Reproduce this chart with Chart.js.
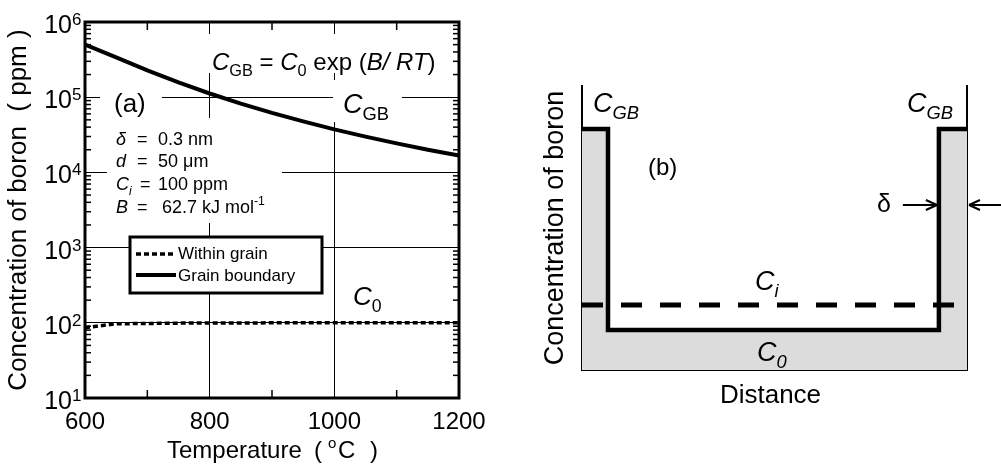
<!DOCTYPE html>
<html>
<head>
<meta charset="utf-8">
<script src="https://cdn.jsdelivr.net/npm/chart.js@4.4.1/dist/chart.umd.min.js"></script>
<style>
  html, body { margin: 0; padding: 0; background: #fff; }
  #wrap { position: relative; width: 1001px; height: 464px; }
  canvas { position: absolute; top: 0; }
</style>
</head>
<body>
<div id="wrap">
  <canvas id="chart-a" width="500" height="464" style="left:0"></canvas>
  <canvas id="chart-b" width="501" height="464" style="left:500px"></canvas>
</div>
<script>
// (a) boron concentration vs temperature
const temperatureC = [600, 650, 700, 750, 800, 850, 900, 950, 1000, 1050, 1100, 1150, 1200];
const withinGrainPpm = [86, 97, 98, 99, 99.5, 99.7, 99.8, 99.9, 99.9, 100, 100, 100, 100];
const grainBoundaryPpm = [500000, 339000, 227000, 157000, 112000, 82200, 61800, 47600, 37300, 29900, 24300, 20000, 16700];
const tempTicks = [600, 800, 1000, 1200];
const tempMinorTicks = [700, 900, 1100];
const decadeTicks = [10, 100, 1000, 10000, 100000, 1000000];

// (b) schematic profile across one grain (arbitrary units 0..1)
const distancePos = [0, 0.0675, 0.0675, 0.927, 0.927, 1];
const profileLevel = [0.849, 0.849, 0.141, 0.141, 0.849, 0.849];
const initialPos = [0, 0.972];
const initialLevel = [0.229, 0.229];

const FONT = '"Liberation Sans", Arial, sans-serif';
const GRAY = '#dcdcdc';

const toPoints = (xs, ys) => xs.map((x, i) => ({ x: x, y: ys[i] }));

// draw a run of text pieces: [text, flags] where flags may hold i / sub / sup
function drawRich(ctx, x, y, parts, size, align) {
  const segs = parts.map(p => {
    const f = p[1] || '';
    const small = f.includes('sub') || f.includes('sup');
    const s = small ? size * 0.68 : size;
    const font = (f.includes('i') && f !== 'sup' && f !== 'sub' ? 'italic ' : '') + s + 'px ' + FONT;
    ctx.font = font;
    let dy = 0;
    if (f.includes('sub')) dy = size * 0.25;
    if (f.includes('sup')) dy = -size * 0.42;
    return { t: p[0], font: font, w: ctx.measureText(p[0]).width, dy: dy };
  });
  const total = segs.reduce((a, s) => a + s.w, 0);
  let cx = x;
  if (align === 'center') cx = x - total / 2;
  if (align === 'right') cx = x - total;
  ctx.textAlign = 'left';
  ctx.textBaseline = 'alphabetic';
  segs.forEach(s => {
    ctx.font = s.font;
    ctx.fillText(s.t, cx, y + s.dy);
    cx += s.w;
  });
  return total;
}

function line(ctx, x0, y0, x1, y1) {
  ctx.beginPath();
  ctx.moveTo(x0, y0);
  ctx.lineTo(x1, y1);
  ctx.stroke();
}

// white patches behind the annotations of (a), they break the grid lines
const whiteBoxesA = [
  [205, 34, 222, 39],
  [100, 84, 62, 32],
  [333, 80, 69, 42],
  [107, 118, 175, 105]
];

const panelA = {
  id: 'panelA',
  beforeDatasetsDraw(chart) {
    const ctx = chart.ctx;
    ctx.save();
    ctx.fillStyle = '#fff';
    whiteBoxesA.forEach(b => ctx.fillRect(b[0], b[1], b[2], b[3]));
    ctx.restore();
  },
  afterDraw(chart) {
    const ctx = chart.ctx;
    const area = chart.chartArea;
    const xs = chart.scales.x;
    const ys = chart.scales.y;
    ctx.save();
    ctx.strokeStyle = '#000';
    ctx.fillStyle = '#000';

    // minor ticks, inside on all sides
    ctx.lineWidth = 1.5;
    tempMinorTicks.forEach(t => {
      const px = xs.getPixelForValue(t);
      line(ctx, px, area.bottom, px, area.bottom - 8);
      line(ctx, px, area.top, px, area.top + 8);
    });
    decadeTicks.slice(0, -1).forEach(d => {
      for (let k = 2; k <= 9; k++) {
        const py = ys.getPixelForValue(d * k);
        line(ctx, area.left, py, area.left + 6, py);
        line(ctx, area.right, py, area.right - 6, py);
      }
    });

    // frame
    ctx.lineWidth = 3;
    ctx.strokeRect(area.left, area.top, area.right - area.left, area.bottom - area.top);

    // y tick labels 10^n
    decadeTicks.forEach(d => {
      const py = ys.getPixelForValue(d);
      const n = Math.round(Math.log10(d));
      ctx.font = '25px ' + FONT;
      ctx.textAlign = 'right';
      ctx.textBaseline = 'alphabetic';
      ctx.fillText('10', 72, py + 11);
      ctx.font = '17px ' + FONT;
      ctx.textAlign = 'left';
      ctx.fillText(String(n), 72, py + 3);
    });

    // axis titles
    ctx.font = '24px ' + FONT;
    ctx.textAlign = 'left';
    ctx.fillText('Temperature', 167, 458);
    ctx.fillText('(', 314, 458);
    ctx.font = '15px ' + FONT;
    ctx.fillText('o', 328, 448);
    ctx.font = '24px ' + FONT;
    ctx.fillText('C', 338, 458);
    ctx.fillText(')', 370, 458);

    ctx.save();
    ctx.translate(26, (area.top + area.bottom) / 2);
    ctx.rotate(-Math.PI / 2);
    ctx.font = '26px ' + FONT;
    ctx.textAlign = 'center';
    ctx.fillText('Concentration of boron  ( ppm )', 0, 0);
    ctx.restore();

    // annotations
    drawRich(ctx, 212, 70, [['C', 'i'], ['GB', 'sub'], [' = '], ['C', 'i'], ['0', 'sub'], [' exp ('], ['B', 'i'], ['/ ', 'i'], ['RT', 'i'], [')']], 24);
    drawRich(ctx, 114, 112, [['(a)']], 26);
    drawRich(ctx, 343, 113, [['C', 'i'], ['GB', 'sub']], 27);
    drawRich(ctx, 353, 305, [['C', 'i'], ['0', 'sub']], 26);

    const params = [
      [145, [['\u03b4', 'i']], 158, [['0.3 nm']]],
      [167, [['d', 'i']], 158, [['50 \u03bcm']]],
      [190, [['C', 'i'], ['i', 'isub']], 158, [['100 ppm']]],
      [213, [['B', 'i']], 162, [['62.7 kJ mol'], ['-1', 'sup']]]
    ];
    params.forEach(p => {
      drawRich(ctx, 116, p[0], p[1], 18);
      drawRich(ctx, p[1].length > 1 ? 140 : 137, p[0], [['=']], 18);
      drawRich(ctx, p[2], p[0], p[3], 18);
    });

    // legend
    ctx.fillStyle = '#fff';
    ctx.fillRect(130, 237, 192, 56);
    ctx.lineWidth = 3;
    ctx.strokeRect(130, 237, 192, 56);
    ctx.fillStyle = '#000';
    ctx.lineWidth = 3.5;
    ctx.setLineDash([5, 3]);
    line(ctx, 136, 254, 176, 254);
    ctx.setLineDash([]);
    ctx.lineWidth = 4;
    line(ctx, 136, 275, 176, 275);
    ctx.font = '17px ' + FONT;
    ctx.textAlign = 'left';
    ctx.textBaseline = 'middle';
    ctx.fillText('Within grain', 178, 254);
    ctx.fillText('Grain boundary', 178, 276);
    ctx.restore();
  }
};

new Chart(document.getElementById('chart-a'), {
  type: 'line',
  data: {
    datasets: [
      {
        label: 'Within grain',
        data: toPoints(temperatureC, withinGrainPpm),
        borderColor: '#000',
        borderWidth: 3.5,
        borderDash: [5, 3],
        pointRadius: 0
      },
      {
        label: 'Grain boundary',
        data: toPoints(temperatureC, grainBoundaryPpm),
        borderColor: '#000',
        borderWidth: 4,
        pointRadius: 0
      }
    ]
  },
  options: {
    responsive: false,
    animation: false,
    layout: { padding: { top: 22, right: 41, left: 0, bottom: 0 } },
    plugins: { legend: { display: false }, tooltip: { enabled: false } },
    scales: {
      x: {
        type: 'linear',
        min: 600,
        max: 1200,
        afterBuildTicks: s => { s.ticks = tempTicks.map(v => ({ value: v })); },
        afterFit: s => { s.height = 66; },
        ticks: {
          color: '#000',
          font: { family: FONT, size: 24 },
          padding: 10,
          maxRotation: 0,
          callback: v => String(v)
        },
        grid: { color: '#000', lineWidth: 1, drawTicks: false },
        border: { display: false }
      },
      y: {
        type: 'logarithmic',
        min: 10,
        max: 1000000,
        afterBuildTicks: s => { s.ticks = decadeTicks.map(v => ({ value: v })); },
        afterFit: s => { s.width = 85; },
        ticks: { display: false },
        grid: { color: '#000', lineWidth: 1, drawTicks: false },
        border: { display: false }
      }
    }
  },
  plugins: [panelA]
});

const panelB = {
  id: 'panelB',
  afterDraw(chart) {
    const ctx = chart.ctx;
    const xs = chart.scales.x;
    const ys = chart.scales.y;
    const area = chart.chartArea;
    ctx.save();
    ctx.fillStyle = '#000';
    ctx.strokeStyle = '#000';

    drawRich(ctx, 93, 112, [['C', 'i'], ['GB', 'isub']], 27);
    drawRich(ctx, 407, 112, [['C', 'i'], ['GB', 'isub']], 27);
    drawRich(ctx, 148, 175, [['(b)']], 24);
    drawRich(ctx, 255, 290, [['C', 'i'], ['i', 'isub']], 27);
    drawRich(ctx, 257, 361, [['C', 'i'], ['0', 'isub']], 27);
    drawRich(ctx, 377, 212, [['\u03b4']], 25);

    // grain boundary width arrows
    const ay = ys.getPixelForValue(0.581);
    const tipL = xs.getPixelForValue(distancePos[3]) - 2;
    const tipR = area.right + 2;
    ctx.lineWidth = 2;
    line(ctx, tipL - 34, ay, tipL, ay);
    line(ctx, tipL, ay, tipL - 11, ay - 5);
    line(ctx, tipL, ay, tipL - 11, ay + 5);
    line(ctx, tipR + 32, ay, tipR, ay);
    line(ctx, tipR, ay, tipR + 11, ay - 5);
    line(ctx, tipR, ay, tipR + 11, ay + 5);

    ctx.font = '26px ' + FONT;
    ctx.textAlign = 'center';
    ctx.textBaseline = 'alphabetic';
    ctx.fillText('Distance', (area.left + area.right) / 2 - 4, 403);

    ctx.save();
    ctx.translate(63, (area.top + area.bottom) / 2);
    ctx.rotate(-Math.PI / 2);
    ctx.font = '27px ' + FONT;
    ctx.fillText('Concentration of boron', 0, 0);
    ctx.restore();
    ctx.restore();
  }
};

new Chart(document.getElementById('chart-b'), {
  type: 'line',
  data: {
    datasets: [
      {
        label: 'Profile',
        data: toPoints(distancePos, profileLevel),
        borderColor: '#000',
        borderWidth: 4.5,
        borderJoinStyle: 'miter',
        backgroundColor: GRAY,
        fill: 'origin',
        pointRadius: 0,
        order: 2
      },
      {
        label: 'Ci',
        data: toPoints(initialPos, initialLevel),
        borderColor: '#000',
        borderWidth: 5,
        borderDash: [21, 18],
        borderCapStyle: 'butt',
        pointRadius: 0,
        order: 1
      }
    ]
  },
  options: {
    responsive: false,
    animation: false,
    layout: { padding: { top: 86, right: 34, left: 0, bottom: 0 } },
    plugins: { legend: { display: false }, tooltip: { enabled: false } },
    scales: {
      x: {
        type: 'linear',
        min: 0,
        max: 1,
        afterFit: s => { s.height = 94; },
        ticks: { display: false },
        grid: { display: false },
        border: { color: '#000', width: 2 }
      },
      y: {
        min: 0,
        max: 1,
        afterFit: s => { s.width = 82; },
        ticks: { display: false },
        grid: { display: false },
        border: { color: '#000', width: 2 }
      },
      y2: {
        position: 'right',
        min: 0,
        max: 1,
        afterFit: s => { s.width = 0; },
        ticks: { display: false },
        grid: { display: false },
        border: { color: '#000', width: 2 }
      }
    }
  },
  plugins: [panelB]
});
</script>
</body>
</html>
